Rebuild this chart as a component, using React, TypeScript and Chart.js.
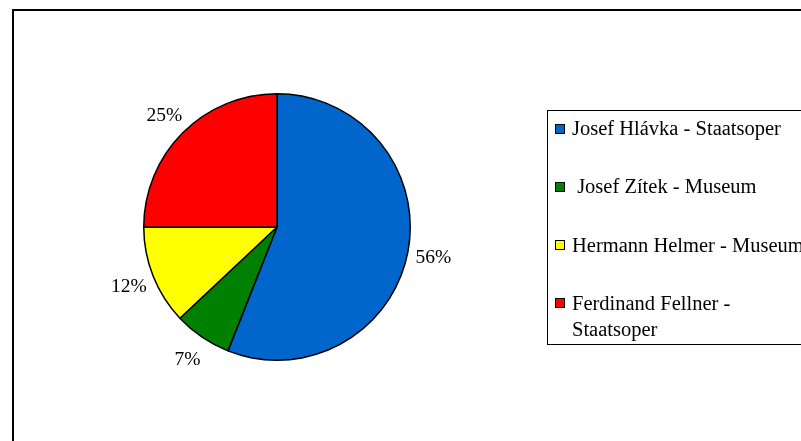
import React, { useEffect, useRef } from "react";
import { Chart, registerables } from "chart.js";

Chart.register(...registerables);

const categories: (string | string[])[] = [
  "Josef Hlávka - Staatsoper",
  " Josef Zítek - Museum",
  "Hermann Helmer - Museum",
  ["Ferdinand Fellner -", "Staatsoper"],
];
const values = [56, 7, 12, 25];
const percentLabels = ["56%", "7%", "12%", "25%"];
const colors = ["#0066CC", "#008000", "#FFFF00", "#FF0000"];

const FONT = "'Liberation Serif', 'Times New Roman', serif";

const customPlugin = {
  id: "customDecor",
  afterDraw(chart: any) {
    const ctx = chart.ctx as CanvasRenderingContext2D;
    ctx.save();
    // outer border
    ctx.strokeStyle = "#000";
    ctx.lineWidth = 2;
    ctx.strokeRect(13, 10, 900, 500);

    // percentage labels
    const meta = chart.getDatasetMeta(0);
    ctx.font = `19.5px ${FONT}`;
    ctx.fillStyle = "#000";
    ctx.textAlign = "center";
    ctx.textBaseline = "alphabetic";
    meta.data.forEach((arc: any, i: number) => {
      const p = arc.getProps(["x", "y", "startAngle", "endAngle", "outerRadius"], true);
      const mid = (p.startAngle + p.endAngle) / 2;
      const d = p.outerRadius + 26;
      ctx.fillText(percentLabels[i], p.x + Math.cos(mid) * d, p.y + Math.sin(mid) * d + 6.5);
    });

    // legend box
    ctx.lineWidth = 1;
    ctx.strokeRect(547.5, 110.5, 400, 234);
    ctx.textAlign = "left";
    ctx.font = `20.5px ${FONT}`;
    const labels = chart.data.labels as (string | string[])[];
    const bg = chart.data.datasets[0].backgroundColor as string[];
    labels.forEach((lab, i) => {
      const cy = 128.5 + i * 58.3;
      ctx.fillStyle = bg[i];
      ctx.fillRect(555, Math.round(cy - 5), 10, 10);
      ctx.strokeStyle = "#000";
      ctx.strokeRect(555.5, Math.round(cy - 5) + 0.5, 9, 9);
      ctx.fillStyle = "#000";
      const lines = Array.isArray(lab) ? lab : [lab];
      lines.forEach((ln, j) => {
        ctx.fillText(ln, 572, cy + 6.5 + j * 26);
      });
    });
    ctx.restore();
  },
};

export default function App() {
  const ref = useRef<HTMLCanvasElement>(null);
  useEffect(() => {
    if (!ref.current) return;
    const chart = new Chart(ref.current, {
      type: "pie",
      data: {
        labels: categories as any,
        datasets: [
          {
            data: values,
            backgroundColor: colors,
            borderColor: "#000",
            borderWidth: 1.5,
          },
        ],
      },
      options: {
        responsive: false,
        animation: false,
        events: [],
        layout: { padding: { left: 143, right: 390, top: 93, bottom: 80 } },
        plugins: {
          legend: { display: false },
          tooltip: { enabled: false },
          title: { display: false },
        },
      },
      plugins: [customPlugin],
    });
    return () => chart.destroy();
  }, []);
  return (
    <div style={{ position: "fixed", left: 0, top: 0, width: 801, height: 441, background: "#fff" }}>
      <canvas ref={ref} width={801} height={441} style={{ display: "block", width: 801, height: 441 }} />
    </div>
  );
}
